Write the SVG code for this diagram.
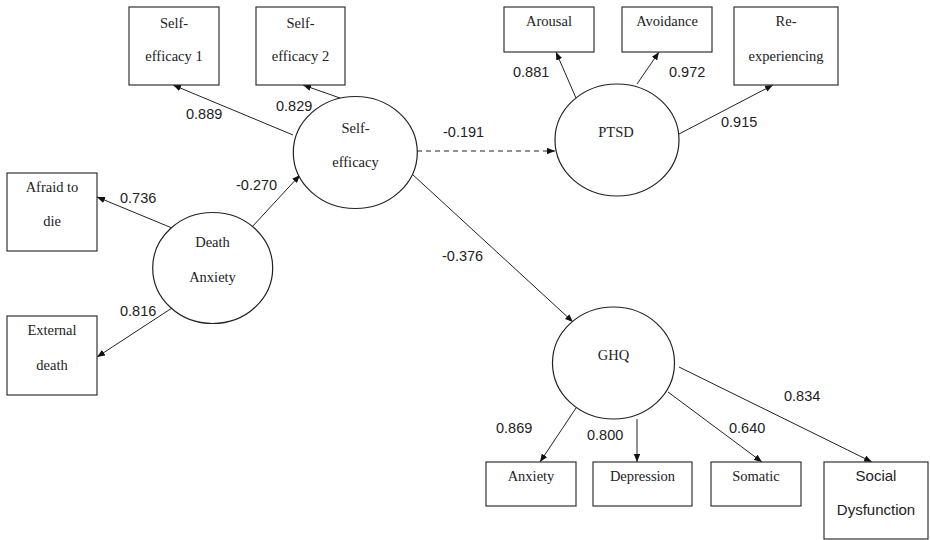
<svg xmlns="http://www.w3.org/2000/svg" width="930" height="540" viewBox="0 0 930 540">
<defs>
<marker id="ah" viewBox="0 0 10 8" refX="10" refY="4" markerWidth="8" markerHeight="6.5" markerUnits="userSpaceOnUse" orient="auto">
<path d="M0,0 L10,4 L0,8 Z" fill="#111"/>
</marker>
</defs>
<style>
.box{fill:#fff;stroke:#333;stroke-width:1.2}
.lat{fill:#fff;stroke:#222;stroke-width:1.2}
.ser{font-family:"Liberation Serif","Times New Roman",serif;font-size:14.5px;fill:#222;text-anchor:middle}
.san{font-family:"Liberation Sans",Arial,sans-serif;font-size:14.5px;fill:#222}
.sanm{font-family:"Liberation Sans",Arial,sans-serif;font-size:15px;fill:#222;text-anchor:middle}
.ln{stroke:#222;stroke-width:1;fill:none;marker-end:url(#ah)}
.dash{stroke-dasharray:5,4}
</style>
<rect width="930" height="540" fill="#fff"/>
<g id="connectors">
<line class="ln" x1="293" y1="135" x2="173" y2="85"/>
<line class="ln" x1="340" y1="98" x2="303" y2="85"/>
<line class="ln dash" x1="417" y1="151" x2="555" y2="151"/>
<line class="ln" x1="412" y1="174" x2="573" y2="322"/>
<line class="ln" x1="252" y1="227" x2="300" y2="175"/>
<line class="ln" x1="172" y1="228" x2="97" y2="197"/>
<line class="ln" x1="172" y1="308" x2="97" y2="357"/>
<line class="ln" x1="576" y1="98" x2="556" y2="52"/>
<line class="ln" x1="637" y1="84" x2="659" y2="52"/>
<line class="ln" x1="679" y1="134" x2="773" y2="85"/>
<line class="ln" x1="576" y1="408" x2="540" y2="462"/>
<line class="ln" x1="637" y1="419" x2="637" y2="462"/>
<line class="ln" x1="668" y1="392" x2="762" y2="462"/>
<line class="ln" x1="679" y1="367" x2="872" y2="462"/>
</g>
<g id="labels">
<text class="san" x="186" y="119">0.889</text>
<text class="san" x="276" y="111">0.829</text>
<text class="san" x="443" y="137">-0.191</text>
<text class="san" x="442" y="261">-0.376</text>
<text class="san" x="236" y="190">-0.270</text>
<text class="san" x="120" y="203">0.736</text>
<text class="san" x="120" y="316">0.816</text>
<text class="san" x="513" y="77">0.881</text>
<text class="san" x="669" y="77">0.972</text>
<text class="san" x="721" y="127">0.915</text>
<text class="san" x="496" y="433">0.869</text>
<text class="san" x="587" y="440">0.800</text>
<text class="san" x="729" y="433">0.640</text>
<text class="san" x="784" y="401">0.834</text>
</g>
<g id="se1">
<rect class="box" x="129" y="7" width="90" height="78"/>
<text class="ser" x="174" y="28">Self-</text>
<text class="ser" x="174" y="61">efficacy 1</text>
</g>
<g id="se2">
<rect class="box" x="256" y="7" width="89" height="78"/>
<text class="ser" x="300.5" y="28">Self-</text>
<text class="ser" x="300.5" y="61">efficacy 2</text>
</g>
<g id="selfefficacy">
<ellipse class="lat" cx="355.3" cy="152.5" rx="62" ry="56"/>
<text class="ser" x="355.5" y="133">Self-</text>
<text class="ser" x="355.5" y="167">efficacy</text>
</g>
<g id="afraid">
<rect class="box" x="7" y="173" width="90" height="78"/>
<text class="ser" x="52" y="192">Afraid to</text>
<text class="ser" x="52" y="226">die</text>
</g>
<g id="external">
<rect class="box" x="7" y="316" width="90" height="79"/>
<text class="ser" x="52" y="335">External</text>
<text class="ser" x="52" y="370">death</text>
</g>
<g id="deathanxiety">
<ellipse class="lat" cx="212.7" cy="268" rx="60" ry="55.5"/>
<text class="ser" x="212.5" y="247">Death</text>
<text class="ser" x="212.5" y="282">Anxiety</text>
</g>
<g id="arousal">
<rect class="box" x="504" y="7" width="90" height="45"/>
<text class="ser" x="549" y="26">Arousal</text>
</g>
<g id="avoidance">
<rect class="box" x="622" y="7" width="90" height="45"/>
<text class="ser" x="667" y="26">Avoidance</text>
</g>
<g id="reexp">
<rect class="box" x="734" y="7" width="104" height="78"/>
<text class="ser" x="786" y="26">Re-</text>
<text class="ser" x="786" y="61">experiencing</text>
</g>
<g id="ptsd">
<ellipse class="lat" cx="617" cy="140" rx="62" ry="56"/>
<text class="ser" x="616" y="137">PTSD</text>
</g>
<g id="ghq">
<ellipse class="lat" cx="613.5" cy="363" rx="61" ry="56"/>
<text class="ser" x="613.5" y="360">GHQ</text>
</g>
<g id="anxiety">
<rect class="box" x="486" y="462" width="90" height="44"/>
<text class="ser" x="531" y="481">Anxiety</text>
</g>
<g id="depression">
<rect class="box" x="593" y="462" width="99" height="44"/>
<text class="ser" x="642.5" y="481">Depression</text>
</g>
<g id="somatic">
<rect class="box" x="711" y="462" width="90" height="44"/>
<text class="ser" x="756" y="481">Somatic</text>
</g>
<g id="social">
<rect class="box" x="824" y="462" width="104" height="77"/>
<text class="sanm" x="876" y="481">Social</text>
<text class="sanm" x="876" y="515">Dysfunction</text>
</g>
</svg>
